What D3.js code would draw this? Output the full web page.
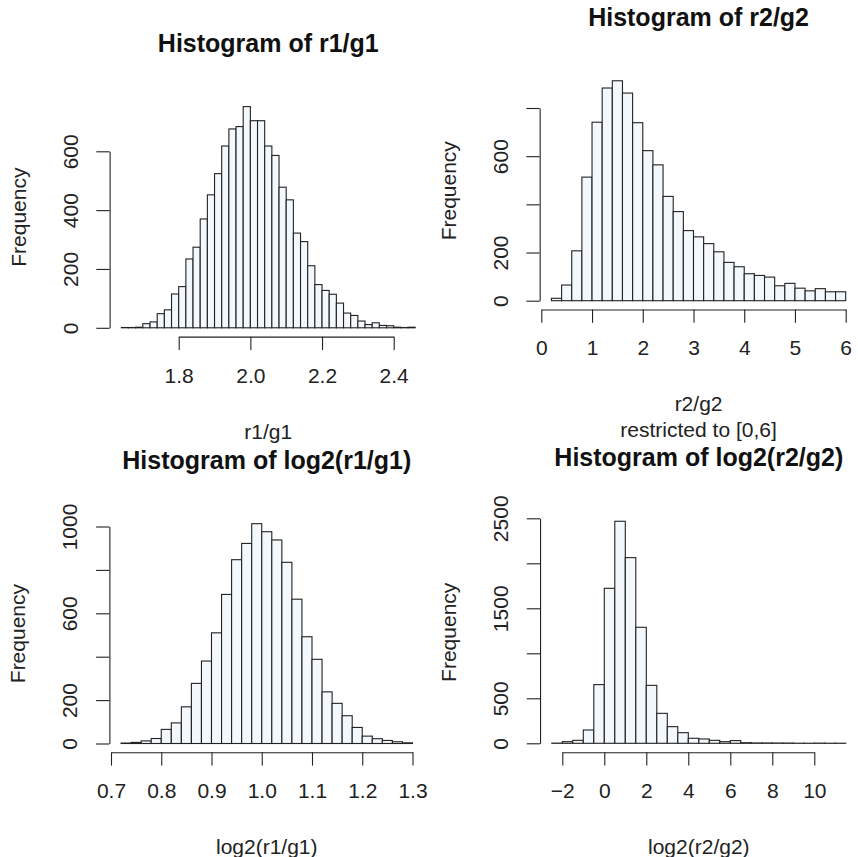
<!DOCTYPE html>
<html>
<head>
<meta charset="utf-8">
<script src="https://cdn.jsdelivr.net/npm/d3@7"></script>
<style>
  body { margin: 0; background: #fff; }
  svg { display: block; font-family: "Liberation Sans", Arial, Helvetica, sans-serif; }
  .bar { fill: #f2f8fc; stroke: #222; stroke-width: 1.1; }
  .axis path, .axis line { stroke: #222; stroke-width: 1.1; }
  .axis text { font-size: 21px; fill: #222; }
  .lab { font-size: 21px; fill: #222; }
  .title { font-size: 25px; font-weight: bold; fill: #111; }
</style>
</head>
<body>
<svg width="858" height="857"></svg>
<script>
// histogram counts
const r1g1Start = 1.64;
const r1g1Width = 0.02;
const r1g1Counts = [1, 1, 2, 14, 20, 48, 61, 115, 140, 234, 274, 370, 452, 524, 618, 676, 684, 752,
  704, 704, 618, 586, 478, 435, 322, 293, 211, 147, 127, 114, 84, 50, 42, 23, 11, 17, 8, 7, 2, 1, 2];
const r1g1XTicks = [1.8, 2.0, 2.2, 2.4];
const r1g1YTicks = [0, 200, 400, 600];
const r1g1YLabels = [0, 200, 400, 600];

const r2g2Start = 0.2;
const r2g2Width = 0.2;
const r2g2Counts = [10, 65, 207, 513, 741, 883, 913, 862, 739, 623, 564, 433, 370, 291, 265, 237,
  203, 159, 141, 112, 105, 98, 62, 72, 52, 41, 50, 37, 37];
const r2g2XTicks = [0, 1, 2, 3, 4, 5, 6];
const r2g2YTicks = [0, 200, 400, 600, 800];
const r2g2YLabels = [0, 200, 600];

const logR1Start = 0.72;
const logR1Width = 0.02;
const logR1Counts = [2, 5, 12, 23, 65, 95, 169, 277, 380, 510, 687, 847, 922, 1013, 976, 938, 835,
  665, 492, 388, 238, 185, 128, 74, 34, 22, 14, 8, 3];
const logR1XTicks = [0.7, 0.8, 0.9, 1.0, 1.1, 1.2, 1.3];
const logR1YTicks = [0, 200, 400, 600, 800, 1000];
const logR1YLabels = [0, 200, 600, 1000];

const logR2Start = -2.5;
const logR2Width = 0.5;
const logR2Counts = [2, 18, 33, 148, 652, 1722, 2467, 2063, 1289, 644, 333, 185, 118, 56, 48, 33,
  18, 30, 7, 4, 4, 3, 3, 1, 1, 2, 1, 1];
const logR2XTicks = [-2, 0, 2, 4, 6, 8, 10];
const logR2YTicks = [0, 500, 1000, 1500, 2000, 2500];
const logR2YLabels = [0, 500, 1500, 2500];

const svg = d3.select('svg');

// where each panel sits on the page (pixel anchors for two tick values per axis)
const panels = [
  { title: 'Histogram of r1/g1', xlab: 'r1/g1', sub: null,
    start: r1g1Start, width: r1g1Width, counts: r1g1Counts,
    xTicks: r1g1XTicks, yTicks: r1g1YTicks, yLabels: r1g1YLabels, xFmt: d3.format('.1f'),
    xPx: [178.7, 393.7], yRef: 600, yPx: [327.8, 151.3] },
  { title: 'Histogram of r2/g2', xlab: 'r2/g2', sub: 'restricted to [0,6]',
    start: r2g2Start, width: r2g2Width, counts: r2g2Counts,
    xTicks: r2g2XTicks, yTicks: r2g2YTicks, yLabels: r2g2YLabels, xFmt: d3.format('d'),
    xPx: [541.3, 845.7], yRef: 800, yPx: [300.7, 108.0] },
  { title: 'Histogram of log2(r1/g1)', xlab: 'log2(r1/g1)', sub: null,
    start: logR1Start, width: logR1Width, counts: logR1Counts,
    xTicks: logR1XTicks, yTicks: logR1YTicks, yLabels: logR1YLabels, xFmt: d3.format('.1f'),
    xPx: [111, 412.5], yRef: 1000, yPx: [743.5, 526.5] },
  { title: 'Histogram of log2(r2/g2)', xlab: 'log2(r2/g2)', sub: null,
    start: logR2Start, width: logR2Width, counts: logR2Counts,
    xTicks: logR2XTicks, yTicks: logR2YTicks, yLabels: logR2YLabels, xFmt: d => d3.format('d')(d).replace('-', '\u2212'),
    xPx: [562.3, 814.3], yRef: 2500, yPx: [743.3, 518.3] }
];

panels.forEach(drawHist);

function drawHist(p) {
  const n = p.counts.length;
  const end = p.start + n * p.width;
  const maxCount = d3.max(p.counts);

  const x = d3.scaleLinear()
    .domain([p.xTicks[0], p.xTicks[p.xTicks.length - 1]])
    .range(p.xPx);
  const y = d3.scaleLinear().domain([0, p.yRef]).range(p.yPx);

  // R style 4% padding around the data range
  const pad = 0.04 * (end - p.start);
  const left = x(p.start - pad);
  const right = x(end + pad);
  const bottom = y(-0.04 * maxCount);
  const top = y(1.04 * maxCount);

  const g = svg.append('g');

  g.append('g').selectAll('rect')
    .data(p.counts)
    .enter().append('rect')
    .attr('class', 'bar')
    .attr('x', (d, i) => x(p.start + i * p.width))
    .attr('width', x(p.start + p.width) - x(p.start))
    .attr('y', d => y(d))
    .attr('height', d => y(0) - y(d));

  // x axis: line only from first to last tick
  const xa = x.copy();
  g.append('g')
    .attr('class', 'axis')
    .attr('transform', `translate(0,${bottom})`)
    .call(d3.axisBottom(xa).tickValues(p.xTicks).tickSizeInner(13.3).tickSizeOuter(0).tickFormat(p.xFmt))
    .call(a => a.selectAll('text').attr('y', 46).attr('dy', null));

  const t0 = p.yTicks[0], t1 = p.yTicks[p.yTicks.length - 1];
  const ya = d3.scaleLinear().domain([t0, t1]).range([y(t0), y(t1)]);
  g.append('g')
    .attr('class', 'axis')
    .attr('transform', `translate(${left},0)`)
    .call(d3.axisLeft(ya).tickValues(p.yTicks).tickSizeInner(13.3).tickSizeOuter(0)
      .tickFormat(d => p.yLabels.includes(d) ? d : ''))
    .call(a => a.selectAll('text')
      .attr('x', null).attr('dy', null)
      .attr('text-anchor', 'middle')
      .attr('transform', 'translate(-32,0) rotate(-90)'));

  g.selectAll('.domain').attr('fill', 'none');

  const cx = (left + right) / 2;
  g.append('text')
    .attr('class', 'title')
    .attr('x', cx).attr('y', top - 46)
    .attr('text-anchor', 'middle')
    .text(p.title);

  g.append('text')
    .attr('class', 'lab')
    .attr('x', cx).attr('y', bottom + 102)
    .attr('text-anchor', 'middle')
    .text(p.xlab);

  if (p.sub) {
    g.append('text')
      .attr('class', 'lab')
      .attr('x', cx).attr('y', bottom + 128)
      .attr('text-anchor', 'middle')
      .text(p.sub);
  }

  g.append('text')
    .attr('class', 'lab')
    .attr('text-anchor', 'middle')
    .attr('transform', `translate(${left - 84},${(top + bottom) / 2}) rotate(-90)`)
    .text('Frequency');
}
</script>
</body>
</html>
